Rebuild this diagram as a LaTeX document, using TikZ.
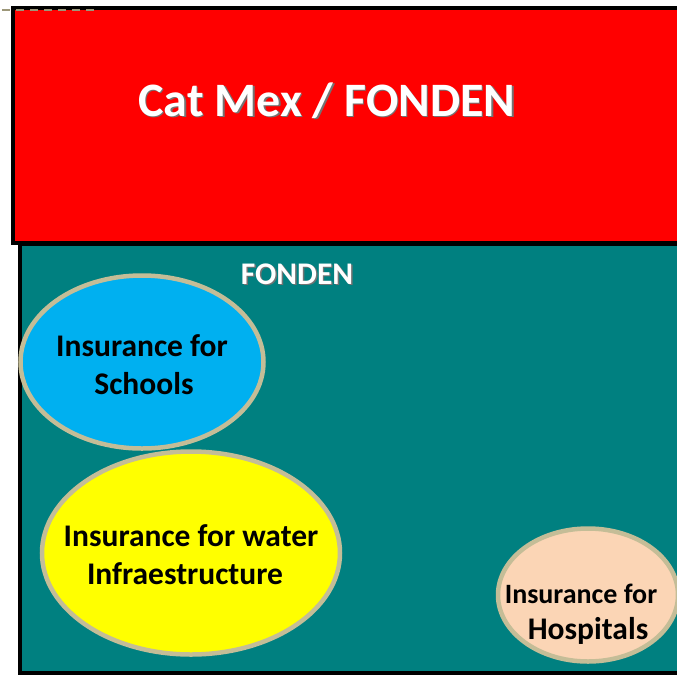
\documentclass[tikz,border=0pt]{standalone}
\usepackage{fontspec}
\setmainfont{Carlito}
\usetikzlibrary{shapes.geometric}
% white title text with a soft dark drop shadow behind it
\newcommand{\shadowed}[1]{\makebox[0pt][l]{\hspace{1.4pt}\raisebox{-1.4pt}{\textcolor{black!55}{#1}}}\textcolor{white}{#1}}
\begin{document}
\definecolor{catred}{RGB}{255,0,0}
\definecolor{fondenteal}{RGB}{0,128,128}
\definecolor{rimtan}{RGB}{196,189,151}
\definecolor{schoolblue}{RGB}{0,176,240}
\definecolor{wateryellow}{RGB}{255,255,0}
\definecolor{hospitalpeach}{RGB}{251,213,181}
\begin{tikzpicture}[x=1pt,y=-1pt,
  panel/.style={draw=black,line width=4.5pt},
  bubble/.style={ellipse,draw=rimtan,line width=4.5pt,inner sep=0pt},
  caption/.style={align=center,font=\bfseries\fontsize{31.5}{38}\selectfont,text=black}]
\useasboundingbox (0,0) rectangle (677,675);
% FONDEN frame (drawn first, the Cat Mex band overlaps its top edge)
\draw[panel,fill=fondenteal] (20,244) rectangle (690,673);
% Cat Mex band
\draw[panel,fill=catred] (13,8) rectangle (690,243);
% dashed guide along the top edge
\draw[rimtan!80!black,line width=2pt,dash pattern=on 8pt off 6pt] (2,10) -- (96,10);
% titles
\node (catmex) [font=\bfseries\fontsize{48}{52}\selectfont] at (327,101) {\shadowed{Cat Mex / FONDEN}};
\node (fonden) [font=\bfseries\fontsize{31.5}{34}\selectfont] at (297,275) {\shadowed{FONDEN}};
% insurance programmes
\node (schools) [bubble,fill=schoolblue,minimum width=243,minimum height=173,
  label={[caption,yshift=-3pt]center:Insurance for\\Schools\hspace*{-4pt}}] at (142,362) {};
\node (water) [bubble,fill=wateryellow,minimum width=298,minimum height=203,
  label={[caption,yshift=-2pt]center:Insurance for water\\Infraestructure\hspace*{12pt}}] at (191,553) {};
\node (hospitals) [bubble,fill=hospitalpeach,minimum width=180,minimum height=133,
  label={[caption,font=\bfseries\fontsize{28}{36}\selectfont,yshift=-19pt]center:
    Insurance for\hspace*{14pt}\\{\fontsize{31.5}{36}\selectfont Hospitals}}] at (588,595) {};
\end{tikzpicture}
\end{document}
